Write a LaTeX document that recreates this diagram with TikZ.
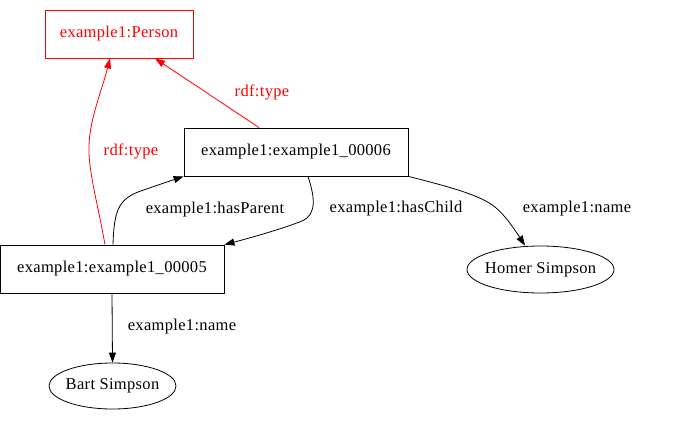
\documentclass[tikz,border=0pt]{standalone}
\usepackage{fontspec}
\setmainfont{Liberation Serif}[LetterSpace=2]
\usetikzlibrary{arrows.meta}
\usetikzlibrary{shapes.geometric}
\tikzset{
  lbl/.style={font=\fontsize{16.5}{19}\selectfont, inner sep=0pt},
  boxnode/.style={draw, line width=0.8pt, rectangle, minimum width=224pt, minimum height=48pt, inner sep=0pt, font=\fontsize{16.5}{19}\selectfont},
  ellnode/.style={draw, line width=0.8pt, ellipse, inner sep=0pt, font=\fontsize{16.5}{19}\selectfont},
  edge/.style={line width=0.8pt, -{Triangle[length=10pt,width=7pt]}},
  redge/.style={edge, red},
}
\begin{document}
\begin{tikzpicture}[x=1pt,y=-1pt]
\useasboundingbox (0,0) rectangle (678,423);
\node[boxnode, draw=red, text=red, minimum width=148pt] (person) at (119,34) {example1:Person};
\node[boxnode] (n6) at (296,152) {example1:example1\_00006};
\node[boxnode] (n5) at (112,269) {example1:example1\_00005};
\node[ellnode, minimum width=127pt, minimum height=46pt] (bart) at (112.5,386) {\makebox[0pt]{Bart Simpson}};
\node[ellnode, minimum width=147pt, minimum height=47pt] (homer) at (540.5,269.5) {\makebox[0pt]{Homer Simpson}};

\draw[redge] ([xshift=-37pt]n6.north) -- ([xshift=36pt]person.south);
\node[lbl, text=red] (l1) at (262,92) {rdf:type};

\draw[redge] ([xshift=-7pt]n5.north) .. controls (97,200) and (88,170) .. (89,145)
  .. controls (90,118) and (102,90) .. ([xshift=-9pt]person.south);
\node[lbl, text=red] (l2) at (131,151) {rdf:type};

\draw[edge] ([xshift=1pt]n5.north) .. controls (114,212) and (118,200) .. (138,192)
  .. controls (155,186) and (170,181) .. (n6.south west);
\node[lbl] (l3) at (215,210) {example1:hasParent};

\draw[edge] ([xshift=12pt]n6.south) .. controls (314,195) and (318,214) .. (302,221)
  .. controls (285,228) and (250,238) .. (n5.north east);
\node[lbl] (l4) at (396,209) {example1:hasChild};

\draw[edge] (n6.south east) .. controls (450,187) and (480,195) .. (495,207)
  .. controls (505,215) and (515,230) .. ([xshift=-15.5pt]homer.north);
\node[lbl] (l5) at (577,209) {example1:name};

\draw[edge] (n5.south) -- (bart.north);
\node[lbl] (l6) at (182,327) {example1:name};
\end{tikzpicture}
\end{document}
